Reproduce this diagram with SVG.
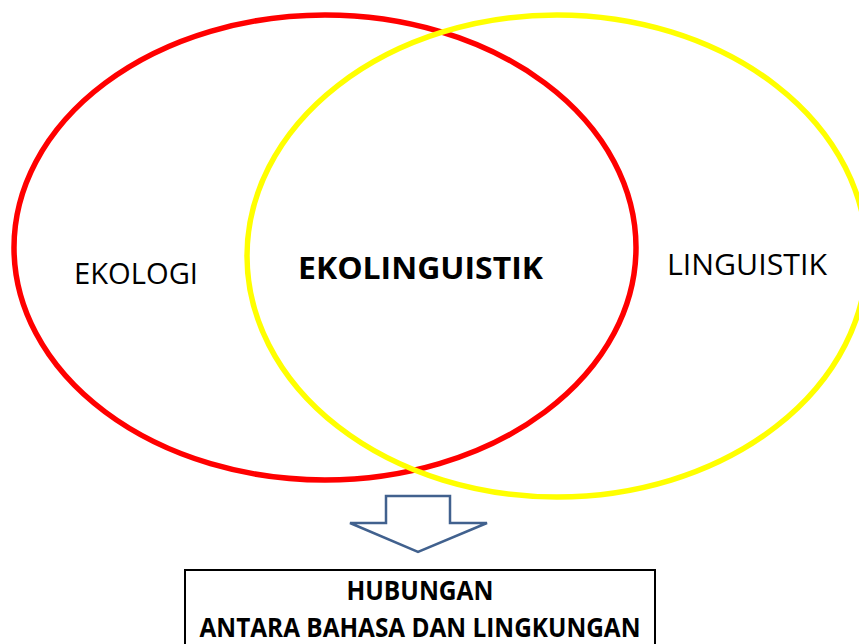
<svg xmlns="http://www.w3.org/2000/svg" width="859" height="644" viewBox="0 0 859 644">
  <style>
    .ring { fill: none; stroke-width: 5.5; }
    .label { font-family: "Open Sans", "Liberation Sans", sans-serif; fill: #000; }
    .bold { font-weight: bold; }
  </style>
  <rect width="859" height="644" fill="#fff"/>

  <g id="ekologi">
    <ellipse class="ring" cx="325" cy="247.5" rx="311" ry="232.5" stroke="#ff0000"/>
    <text class="label" x="74" y="284" font-size="30" textLength="124" lengthAdjust="spacingAndGlyphs">EKOLOGI</text>
  </g>

  <g id="linguistik">
    <ellipse class="ring" cx="557" cy="256" rx="310" ry="241" stroke="#ffff00"/>
    <text class="label" x="667" y="275" font-size="30" textLength="160" lengthAdjust="spacingAndGlyphs">LINGUISTIK</text>
  </g>

  <g id="ekolinguistik">
    <text class="label bold" x="298" y="279" font-size="31" textLength="245" lengthAdjust="spacingAndGlyphs">EKOLINGUISTIK</text>
  </g>

  <g id="connectors">
    <path d="M386,496 H450 V523 H487 L418,552 L350,523 H386 Z" fill="#fff" stroke="#41618e" stroke-width="2.5" stroke-linejoin="miter"/>
  </g>

  <g id="hubungan">
    <rect x="185" y="570" width="470" height="90" fill="#fff" stroke="#000" stroke-width="2"/>
    <text class="label bold" x="420" y="600" font-size="27" text-anchor="middle" textLength="147" lengthAdjust="spacingAndGlyphs">HUBUNGAN</text>
    <text class="label bold" x="420" y="637" font-size="27" text-anchor="middle" textLength="441" lengthAdjust="spacingAndGlyphs">ANTARA BAHASA DAN LINGKUNGAN</text>
  </g>
</svg>
